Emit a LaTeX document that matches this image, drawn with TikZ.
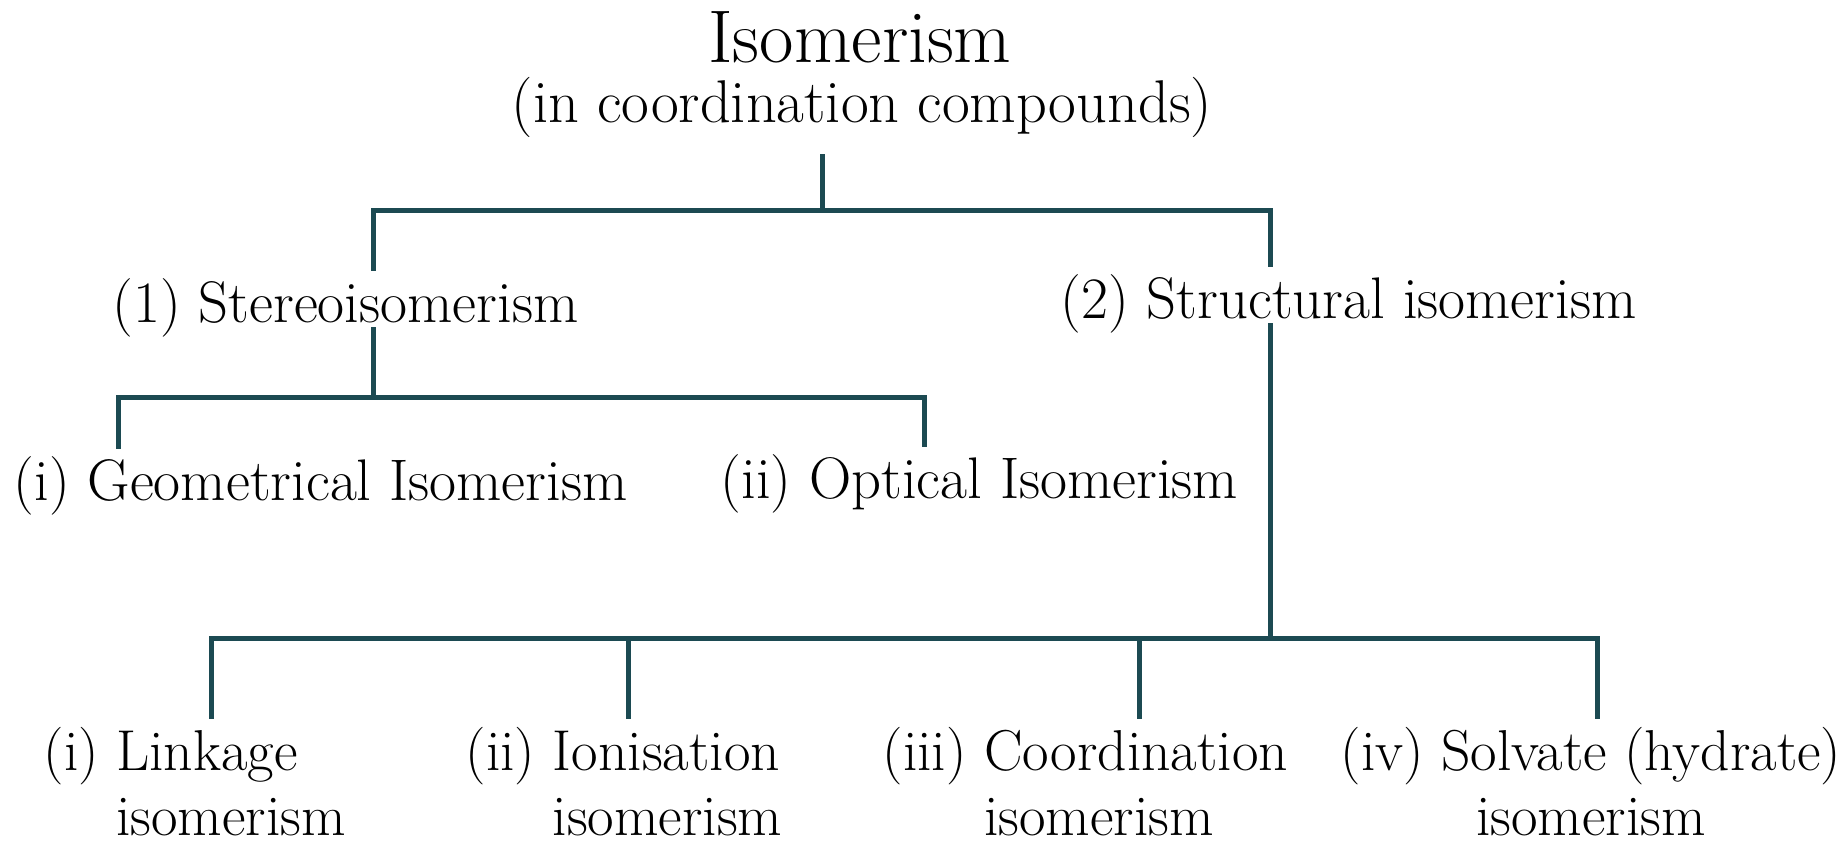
\documentclass[tikz,border=0pt]{standalone}
\usepackage{tikz}
\definecolor{branch}{HTML}{1C4A52}
\tikzset{
  bar/.style={line width=1.5pt, draw=branch},
  lbl/.style={inner sep=0pt, anchor=base west, font=\fontsize{17.6}{21}\selectfont},
  sublbl/.style={lbl, font=\fontsize{17.3}{19.5}\selectfont},
}

\begin{document}
\begin{tikzpicture}[x=0.3pt,y=-0.3pt]
\useasboundingbox (0,0) rectangle (1841,845);
% heading
\node[inner sep=0pt,anchor=base,font=\fontsize{22.4}{26}\selectfont] (top) at (860,62) {Isomerism};
\node[inner sep=0pt,anchor=base,font=\fontsize{18.1}{21}\selectfont] (sub) at (862,122) {(in coordination compounds)};

% two main kinds
\node[lbl] (stereo) at (112,322) {(1) Stereoisomerism};
\node[lbl] (struct) at (1060,318) {(2) Structural isomerism};

% stereoisomers
\node[lbl] (geo) at (13,500) {(i) Geometrical Isomerism};
\node[lbl] (opt) at (720,498) {(ii) Optical Isomerism};

% structural isomers
\node[sublbl] (link) at (43,770) {\begin{tabular}[t]{@{}l@{\ }l@{}}(i)&Linkage\\&isomerism\end{tabular}};
\node[sublbl] (ion) at (465,770) {\begin{tabular}[t]{@{}l@{\ }l@{}}(ii)&Ionisation\\&isomerism\end{tabular}};
\node[sublbl] (coord) at (882,770) {\begin{tabular}[t]{@{}l@{\ }l@{}}(iii)&Coordination\\&isomerism\end{tabular}};
\node[sublbl] (solv) at (1340,770) {\begin{tabular}[t]{@{}c@{}}(iv) Solvate (hydrate)\\isomerism\end{tabular}};

% top branch
\coordinate (j0) at (822,210);
\coordinate (jl) at (373,210);
\coordinate (jr) at (1270,210);
\draw[bar, shorten <=5pt] (sub.south -| j0) -- (j0);
\draw[bar, shorten <=2pt, shorten >=2pt] (stereo.north -| jl) -- (jl) -- (jr) -- (struct.north -| jr);

% stereo branch
\coordinate (k0) at (373,397);
\coordinate (kl) at (118,397);
\coordinate (kr) at (924,397);
\draw[bar, shorten <=1.5pt] (stereo.base -| k0) -- (k0);
\draw[bar, shorten <=2pt, shorten >=2pt] (geo.north -| kl) -- (kl) -- (kr) -- (opt.north -| kr);

% structural branch
\coordinate (m0) at (1270,638);
\coordinate (m1) at (211,638);
\coordinate (m2) at (628,638);
\coordinate (m3) at (1139,638);
\coordinate (m4) at (1597,638);
\draw[bar, shorten <=1.5pt] (struct.base -| m0) -- (m0);
\draw[bar, shorten <=1.5pt, shorten >=1.5pt] (link.north -| m1) -- (m1) -- (m4) -- (solv.north -| m4);
\draw[bar, shorten >=1.5pt] (m2) -- (ion.north -| m2);
\draw[bar, shorten >=1.5pt] (m3) -- (coord.north -| m3);
\end{tikzpicture}
\end{document}
